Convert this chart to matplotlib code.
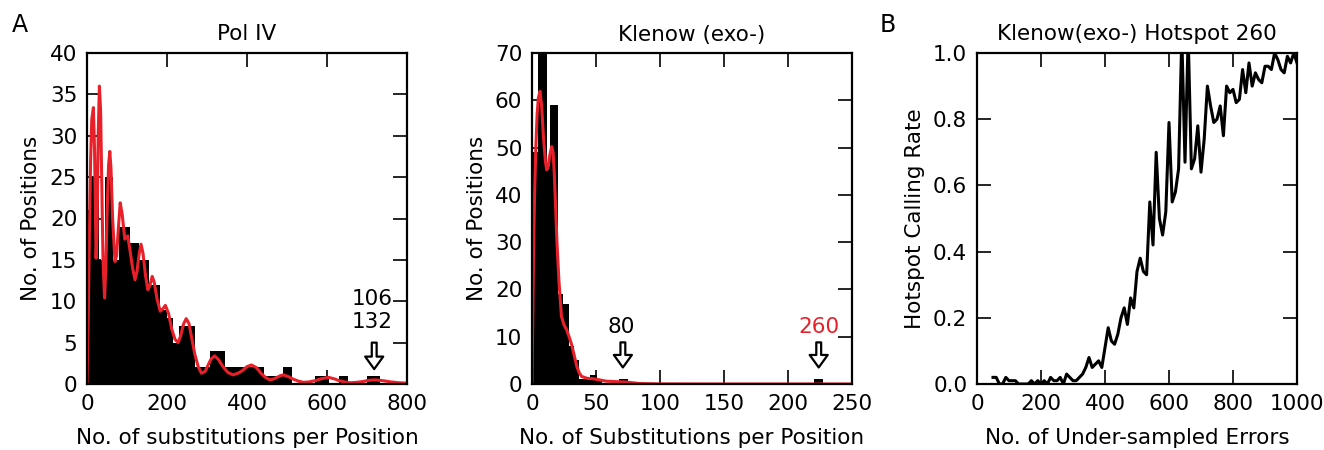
import matplotlib
matplotlib.use("Agg")
import matplotlib.pyplot as plt

FS = 15.5
plt.rcParams["font.family"] = "DejaVu Sans"
plt.rcParams["font.size"] = FS

# Pol IV histogram: bin edges and counts
pol_edges = [0, 10, 31, 45, 66, 79, 108, 131, 154, 183, 200, 215, 230, 270,
             308, 345, 380, 443, 489, 512, 570, 606, 629, 652, 699, 733]
pol_counts = [21, 25, 15, 25, 15, 19, 17, 15, 12, 9, 8, 5, 7,
              2, 4, 2, 2, 1, 2, 0, 1, 0, 1, 0, 1]

# Pol IV density curve (scaled)
pol_kde_x = [0, 3, 6, 9, 12, 16, 19, 22.6, 25, 28, 31, 34, 37, 40, 44, 47, 51, 54, 57,
             60, 64, 70, 74, 78, 83, 88, 94.5, 102, 108, 114, 120, 125, 130, 135, 140,
             146, 152, 157, 163, 168, 175, 183, 190, 196, 204, 212, 220, 228, 234, 241,
             248, 255, 262, 270, 278, 286, 295, 302, 310, 319, 328, 340, 352, 365,
             377, 388, 400, 411, 423, 435, 446, 457, 466, 475, 483, 491, 503, 515,
             528, 541, 555, 570, 587, 604, 620, 630, 644, 658, 674, 690, 705, 721,
             740, 760, 780, 800]
pol_kde_y = [0, 8, 18, 27, 32, 33.4, 28, 15.2, 18, 30, 36, 33, 24, 15, 10.4, 14, 22,
             26.5, 28.1, 26, 20, 14.8, 15.5, 18.5, 21.9, 20.5, 17.5, 17.9, 16, 14,
             12.6, 13.6, 15.6, 16.9, 15.8, 13.2, 11.4, 11.9, 13, 12.3, 10.3, 8.8,
             9.1, 9.5, 8.5, 6.6, 5.4, 5, 5.8, 7.2, 7.9, 7.3, 5.5, 3.5, 2.1, 1.3, 1.5,
             2.2, 3.0, 3.4, 3.0, 2.1, 1.4, 1.1, 1.3, 1.6, 2.1, 2.3, 2.0, 1.3, 0.8, 0.5,
             0.6, 0.8, 1.0, 1.1, 0.9, 0.6, 0.35, 0.2, 0.25, 0.4, 0.65, 0.8, 0.6, 0.4,
             0.25, 0.15, 0.2, 0.3, 0.45, 0.5, 0.4, 0.25, 0.15, 0.1]

# Klenow (exo-) histogram
kle_edges = [0, 5, 11.5, 14, 20, 24, 29, 33, 37, 45, 51, 55, 68, 75, 220, 227]
kle_counts = [49, 75, 46, 59, 19, 17, 8, 5, 1, 2, 1, 0, 1, 0, 1]

kle_kde_x = [0, 0.5, 1.2, 2, 3, 4, 5, 6.25, 7.5, 9, 10.5, 11.5, 12.5, 14, 15.4, 16.5,
             17.5, 18.5, 19.5, 21, 23, 25, 27, 29, 31, 33, 35, 37, 38.8, 43, 48, 58,
             66, 74, 84, 100, 150, 200, 250]
kle_kde_y = [0, 12, 28, 40, 50, 57, 60.5, 61.9, 59, 52, 47, 45.3, 45.8, 48.5, 50.2,
             49, 44, 37, 30, 22, 14.3, 12.5, 11.5, 10, 8.3, 6, 3.7, 2.3, 1.6, 1.2,
             1.1, 0.6, 0.5, 0.4, 0.1, 0.02, 0, 0, 0]

# Hotspot calling rate vs number of under-sampled errors
hs_x = list(range(50, 1001, 10))
hs_y = [0.02, 0.02, 0.0, 0.0, 0.02, 0.01, 0.01, 0.01, 0.0, 0.0, 0.0, 0.0, 0.01, 0.0,
        0.01, 0.0, 0.01, 0.0, 0.02, 0.01, 0.01, 0.02, 0.0, 0.03, 0.02, 0.01, 0.01,
        0.02, 0.03, 0.05, 0.08, 0.05, 0.06, 0.07, 0.05, 0.11, 0.17, 0.13, 0.12, 0.15,
        0.20, 0.23, 0.18, 0.26, 0.23, 0.34, 0.38, 0.34, 0.33, 0.55, 0.42, 0.70, 0.50,
        0.45, 0.52, 0.79, 0.55, 0.58, 0.65, 1.05, 0.67, 1.05, 0.65, 0.68, 0.78, 0.64,
        0.74, 0.90, 0.84, 0.79, 0.80, 0.84, 0.75, 0.90, 0.88, 0.89, 0.85, 0.86, 0.95,
        0.88, 0.97, 0.90, 0.94, 0.92, 0.91, 0.96, 0.96, 0.95, 1.0, 0.98, 0.95, 0.94,
        0.99, 0.97, 1.0, 0.97]

RED = "#e8202a"


def style(ax):
    for s in ax.spines.values():
        s.set_linewidth(1.6)
    ax.tick_params(direction="in", top=True, right=True, length=10, width=1.2,
                   pad=7, labelsize=FS)


def hollow_arrow(ax, x, y0, y1):
    ax.annotate("", xy=(x, y1), xytext=(x, y0),
                arrowprops=dict(facecolor="white", edgecolor="black", lw=1.6,
                                width=3.5, headwidth=13, headlength=9, shrink=0))


fig = plt.figure(figsize=(13.24, 4.5), dpi=100)
w, h, b = 320 / 1324, 331 / 450, 66 / 450

# panel A, Pol IV
ax1 = fig.add_axes([87 / 1324, b, w, h])
widths = [pol_edges[i + 1] - pol_edges[i] for i in range(len(pol_counts))]
ax1.bar(pol_edges[:-1], pol_counts, width=widths, align="edge", color="black",
        linewidth=0)
ax1.plot(pol_kde_x, pol_kde_y, color=RED, lw=2.2)
ax1.set_xlim(0, 800)
ax1.set_ylim(0, 40)
ax1.set_xticks([0, 200, 400, 600, 800])
ax1.set_yticks(range(0, 41, 5))
ax1.set_title("Pol IV", fontsize=FS, pad=9)
ax1.set_xlabel("No. of substitutions per Position", fontsize=FS, labelpad=10)
ax1.set_ylabel("No. of Positions", fontsize=FS, labelpad=6)
ax1.text(712, 10.3, "106", ha="center", va="center", fontsize=FS)
ax1.text(712, 7.5, "132", ha="center", va="center", fontsize=FS)
hollow_arrow(ax1, 718, 5.0, 1.8)
style(ax1)

# panel A, Klenow
ax2 = fig.add_axes([532 / 1324, b, w, h])
widths = [kle_edges[i + 1] - kle_edges[i] for i in range(len(kle_counts))]
ax2.bar(kle_edges[:-1], kle_counts, width=widths, align="edge", color="black",
        linewidth=0)
ax2.plot(kle_kde_x, kle_kde_y, color=RED, lw=2.2)
ax2.set_xlim(0, 250)
ax2.set_ylim(0, 70)
ax2.set_xticks(range(0, 251, 50))
ax2.set_yticks(range(0, 71, 10))
ax2.set_title("Klenow (exo-)", fontsize=FS, pad=9)
ax2.set_xlabel("No. of Substitutions per Position", fontsize=FS, labelpad=10)
ax2.set_ylabel("No. of Positions", fontsize=FS, labelpad=6)
ax2.text(70, 12, "80", ha="center", va="center", fontsize=FS)
hollow_arrow(ax2, 71, 8.8, 3.5)
ax2.text(224, 12, "260", ha="center", va="center", fontsize=FS, color=RED)
hollow_arrow(ax2, 224, 8.8, 3.5)
style(ax2)

# panel B
ax3 = fig.add_axes([977 / 1324, b, w, h])
ax3.plot(hs_x, hs_y, color="black", lw=2.2)
ax3.set_xlim(0, 1000)
ax3.set_ylim(0, 1.0)
ax3.set_xticks(range(0, 1001, 200))
ax3.set_yticks([0.0, 0.2, 0.4, 0.6, 0.8, 1.0])
ax3.set_yticklabels(["0.0", "0.2", "0.4", "0.6", "0.8", "1.0"])
ax3.set_title("Klenow(exo-) Hotspot 260", fontsize=FS, pad=9)
ax3.set_xlabel("No. of Under-sampled Errors", fontsize=FS, labelpad=10)
ax3.set_ylabel("Hotspot Calling Rate", fontsize=FS, labelpad=6)
style(ax3)

fig.text(12 / 1324, 1 - 25 / 450, "A", fontsize=17, va="center")
fig.text(880 / 1324, 1 - 25 / 450, "B", fontsize=17, va="center")

fig.savefig("out.png", dpi=100)
